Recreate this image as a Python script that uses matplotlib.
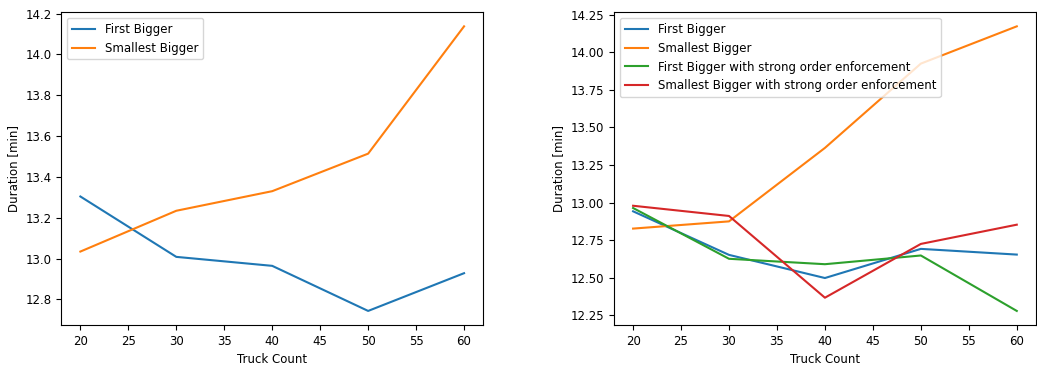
import matplotlib
matplotlib.use("Agg")
import matplotlib.pyplot as plt

truck_count = [20, 30, 40, 50, 60]

# Left chart
left_first_bigger = [13.304, 13.008, 12.964, 12.743, 12.928]
left_smallest_bigger = [13.034, 13.234, 13.330, 13.514, 14.138]

# Right chart
right_first_bigger = [12.942, 12.652, 12.498, 12.692, 12.654]
right_smallest_bigger = [12.827, 12.875, 13.364, 13.925, 14.173]
right_first_bigger_strong = [12.964, 12.626, 12.590, 12.648, 12.279]
right_smallest_bigger_strong = [12.979, 12.911, 12.367, 12.725, 12.853]

plt.rcParams['font.size'] = 8.5

fig = plt.figure(figsize=(10.37, 3.67), dpi=100)
ax1 = fig.add_axes([0.059, 0.114, 0.407, 0.853])
ax2 = fig.add_axes([0.592, 0.114, 0.407, 0.853])

ax1.plot(truck_count, left_first_bigger, label="First Bigger")
ax1.plot(truck_count, left_smallest_bigger, label="Smallest Bigger")
ax1.set_xlabel("Truck Count")
ax1.set_ylabel("Duration [min]")
ax1.legend(loc="upper left")

ax2.plot(truck_count, right_first_bigger, label="First Bigger")
ax2.plot(truck_count, right_smallest_bigger, label="Smallest Bigger")
ax2.plot(truck_count, right_first_bigger_strong, label="First Bigger with strong order enforcement")
ax2.plot(truck_count, right_smallest_bigger_strong, label="Smallest Bigger with strong order enforcement")
ax2.set_xlabel("Truck Count")
ax2.set_ylabel("Duration [min]")
ax2.legend(loc="upper left")

fig.savefig("out.png", dpi=100)
